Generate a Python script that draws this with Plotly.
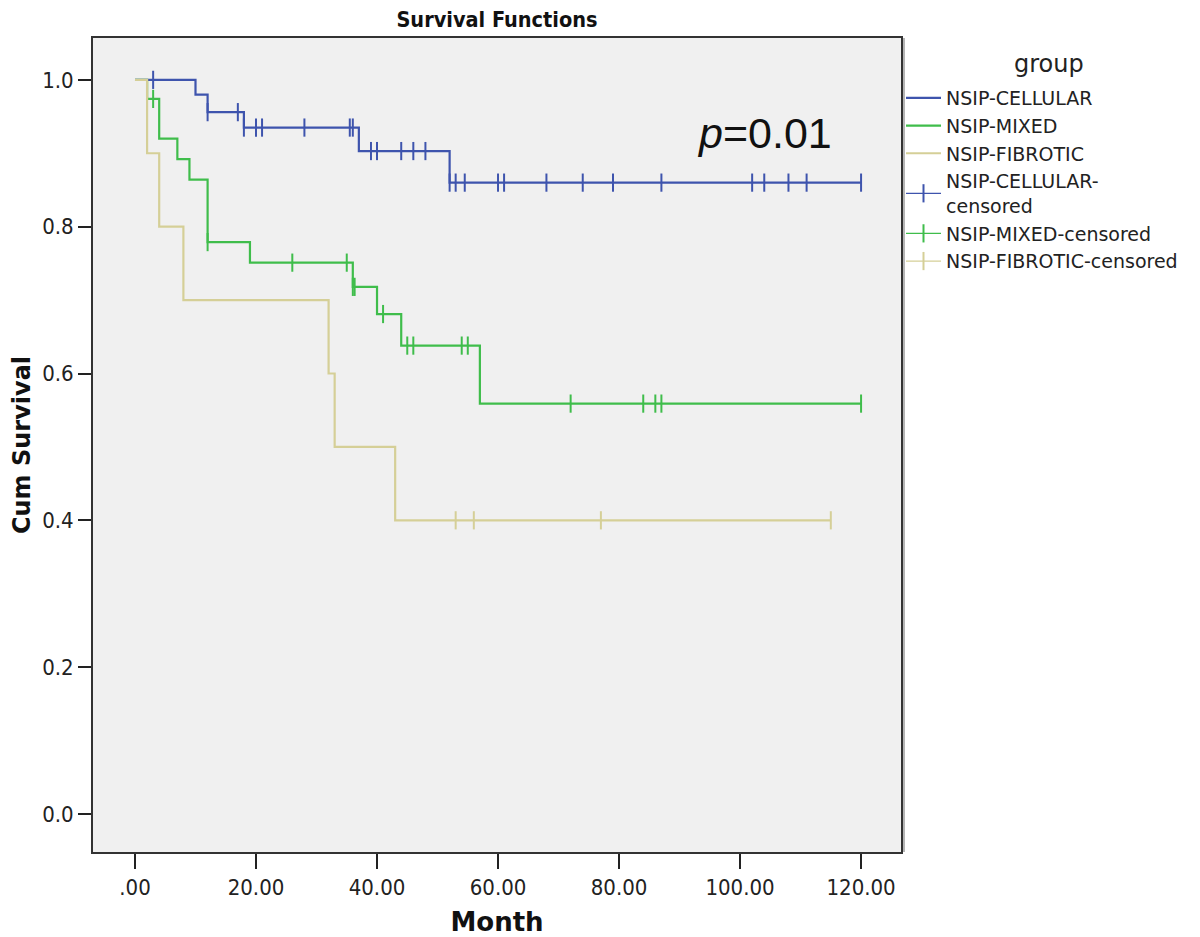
import plotly.graph_objects as go

# ---- data ----
groups = ["NSIP-CELLULAR", "NSIP-MIXED", "NSIP-FIBROTIC"]

cell_times = [0, 10, 12, 18, 37, 52, 120]
cell_surv = [1.0, 0.980, 0.956, 0.935, 0.903, 0.860, 0.860]
cell_cens = [3, 12, 17, 18, 20, 21, 28, 35.5, 36, 39, 40, 44, 46, 48, 52, 53, 54.5,
             60, 61, 68, 74, 79, 87, 102, 104, 108, 111, 120]

mix_times = [0, 2, 4, 7, 9, 12, 19, 36, 40, 44, 57, 120]
mix_surv = [1.0, 0.974, 0.920, 0.892, 0.864, 0.779, 0.751, 0.718, 0.681, 0.638, 0.559, 0.559]
mix_cens = [3, 12, 26, 35, 36, 36.3, 41, 45, 46, 54, 55, 72, 84, 86, 87, 120]

fib_times = [0, 2, 4, 8, 32, 33, 43, 115]
fib_surv = [1.0, 0.9, 0.8, 0.7, 0.6, 0.5, 0.4, 0.4]
fib_cens = [53, 56, 77, 115]

x_tickvals = [0, 20, 40, 60, 80, 100, 120]
x_ticktext = [".00", "20.00", "40.00", "60.00", "80.00", "100.00", "120.00"]
y_tickvals = [0.0, 0.2, 0.4, 0.6, 0.8, 1.0]

colors = {"NSIP-CELLULAR": "#3e54ad", "NSIP-MIXED": "#3fbd4b", "NSIP-FIBROTIC": "#d5cf97"}


def surv_at(t, times, surv):
    v = surv[0]
    for ti, si in zip(times, surv):
        if ti <= t:
            v = si
    return v


def gapped(vals):
    out = []
    for v in vals:
        out += [v, None]
    return out


series = {
    "NSIP-CELLULAR": (cell_times, cell_surv, cell_cens),
    "NSIP-MIXED": (mix_times, mix_surv, mix_cens),
    "NSIP-FIBROTIC": (fib_times, fib_surv, fib_cens),
}

# page body has an 8px default margin -> compensate in the figure margins
L, R, T, B = 85, 307, 30, 93
W, H = 1200, 937
PW, PH = W - L - R, H - T - B


def px_x(px):  # figure-pixel -> paper x
    return (px - L) / PW


def px_y(py):  # figure-pixel -> paper y
    return (H - B - py) / PH


fig = go.Figure()
TICKFONT = dict(family="DejaVu Sans Condensed, DejaVu Sans", size=22, color="#222")

# draw order: mixed, cellular, fibrotic (fibrotic visible at the start)
for rank, name in [(2, "NSIP-MIXED"), (1, "NSIP-CELLULAR"), (3, "NSIP-FIBROTIC")]:
    t, s, c = series[name]
    fig.add_trace(go.Scatter(x=t, y=s, mode="lines", line=dict(shape="hv", color=colors[name], width=2.2),
                             name=name, legendrank=rank, hoverinfo="skip"))

for rank, name in [(4, "NSIP-CELLULAR"), (5, "NSIP-MIXED"), (6, "NSIP-FIBROTIC")]:
    t, s, c = series[name]
    cy = [surv_at(v, t, s) for v in c]
    label = "NSIP-CELLULAR-<br>censored" if name == "NSIP-CELLULAR" else name + "-censored"
    fig.add_trace(go.Scatter(x=gapped(c), y=gapped(cy), mode="lines+markers",
                             line=dict(color=colors[name], width=1.2),
                             marker=dict(symbol="line-ns", size=13, color=colors[name],
                                         line=dict(color=colors[name], width=2)),
                             connectgaps=False, name=label, legendrank=rank, hoverinfo="skip"))

fig.add_annotation(x=104, y=0.928, xref="x", yref="y", text="<i>p</i>=0.01", showarrow=False,
                   font=dict(family="Liberation Sans, Arial", size=43, color="#111"),
                   xanchor="center", yanchor="middle")

fig.add_annotation(x=px_x(1041), y=px_y(56), xref="paper", yref="paper", text="group",
                   showarrow=False, xanchor="center", yanchor="middle",
                   font=dict(family="DejaVu Sans", size=24, color="#222"))

# light shadow along the right edge of the frame
fig.add_shape(type="line", xref="paper", yref="paper", x0=px_x(L + PW + 3), x1=px_x(L + PW + 3),
              y0=0, y1=1, line=dict(color="#b5b5b5", width=2))

fig.update_layout(
    width=W, height=H,
    margin=dict(l=L, r=R, t=T, b=B, autoexpand=False),
    paper_bgcolor="white", plot_bgcolor="#f0f0f0",
    title=dict(text="<b>Survival Functions</b>", x=(L + PW / 2) / W, xanchor="center",
               y=1.0, yanchor="top", pad=dict(t=4),
               font=dict(family="DejaVu Sans Condensed, DejaVu Sans", size=21.5, color="#111")),
    legend=dict(x=1.0, xanchor="left", y=px_y(71), yanchor="top", bgcolor="rgba(0,0,0,0)",
                font=dict(family="DejaVu Sans", size=19, color="#222"),
                itemwidth=35, tracegroupgap=0),
    showlegend=True,
)

fig.update_xaxes(range=[-6.94, 126.6], tickvals=x_tickvals, ticktext=x_ticktext,
                 ticks="outside", ticklen=15, tickwidth=2, tickcolor="#222",
                 showline=True, mirror=True, linecolor="#333", linewidth=2,
                 showgrid=False, zeroline=False, tickfont=TICKFONT, automargin=False,
                 title=dict(text="<b>Month</b>", standoff=13,
                            font=dict(family="DejaVu Sans", size=26, color="#111")))
fig.update_yaxes(range=[-0.0518, 1.057], tickvals=y_tickvals, tickformat=".1f",
                 ticks="outside", ticklen=13, tickwidth=2, tickcolor="#222",
                 showline=True, mirror=True, linecolor="#333", linewidth=2,
                 showgrid=False, zeroline=False, tickfont=TICKFONT, automargin=False,
                 title=dict(text="<b>Cum Survival</b>", standoff=12,
                            font=dict(family="DejaVu Sans", size=24, color="#111")))

fig.write_html("out.html")
